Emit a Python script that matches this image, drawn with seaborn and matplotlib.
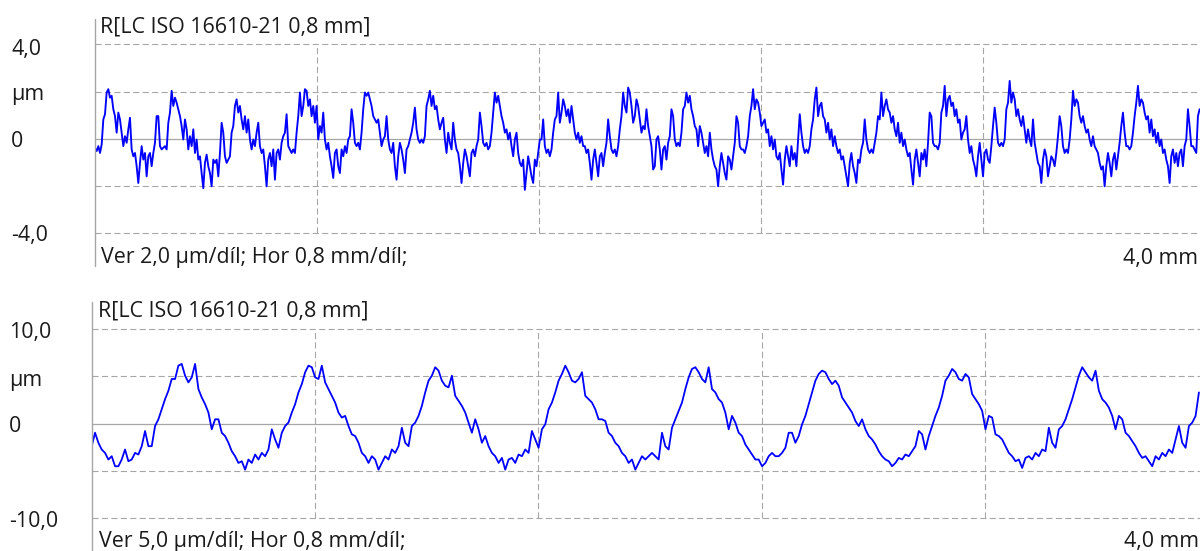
import numpy as np
import pandas as pd
import matplotlib
matplotlib.use("Agg")
import matplotlib.pyplot as plt
import seaborn as sns
from matplotlib.lines import Line2D

# ---------------- data ----------------
panel_title = "R[LC ISO 16610-21 0,8 mm]"
top_footer = "Ver 2,0 µm/díl; Hor 0,8 mm/díl;"
bottom_footer = "Ver 5,0 µm/díl; Hor 0,8 mm/díl;"
length_label = "4,0 mm"
top_ytick_labels = ["4,0", "µm", "0", "-4,0"]
bottom_ytick_labels = ["10,0", "µm", "0", "-10,0"]
top_range_um = 4.0
bottom_range_um = 10.0
x_divisions_mm = [0.8, 1.6, 2.4, 3.2]
x_length_mm = 4.0

# sampling interval of the read profiles (mm)
top_dx_mm = 0.006006
bottom_dx_mm = 0.011947

# top profile (µm)
top_profile_um = [
    -0.38, -0.52, -0.31, -0.60, -0.24, 0.82, 1.04, 1.96, 2.10, 1.74,
    1.82, 1.25, 0.96, 0.26, 1.11, 0.82, 0.26, -0.31, 0.11, -0.17,
    0.40, 0.89, -0.45, -0.74, -0.60, -1.16, -1.87, -1.02, -0.31, -0.88,
    -0.60, -1.59, -0.74, -0.60, -1.16, -0.60, -0.17, 0.96, 0.96, -0.31,
    -0.45, -0.38, -0.31, -0.45, 0.68, 1.11, 2.03, 1.39, 1.74, 1.53,
    1.25, 0.96, 0.54, -0.03, 0.82, 0.40, -0.45, 0.11, -0.31, 0.40,
    -0.60, -0.03, -0.88, -0.74, -1.45, -2.09, -1.02, -0.67, -1.16, -1.45,
    -2.01, -0.88, -1.02, -0.88, -1.59, -0.60, 0.68, 0.26, -0.74, -1.02,
    -0.88, -0.74, 0.26, 0.54, 1.39, 1.67, 1.11, 1.39, 0.82, 0.40,
    0.96, 0.26, 0.82, -0.03, -0.45, -0.03, -0.31, 0.26, 0.68, -0.31,
    -0.60, -0.45, -1.16, -2.01, -0.88, -0.60, -1.16, -0.45, -1.73, -0.60,
    -0.45, -0.88, -0.17, 0.11, 0.26, 1.04, -0.31, -0.45, -0.60, -0.45,
    -0.60, 0.26, 0.96, 1.96, 0.96, 1.39, 2.10, 2.03, 1.39, 1.67,
    0.96, 1.39, 0.68, 1.39, -0.03, 0.54, 0.26, 1.11, -0.03, -0.45,
    -0.17, -0.74, -1.16, -1.66, -0.60, -0.45, -1.16, -1.45, -0.45, -0.74,
    -0.31, -0.60, -0.03, 0.11, 1.25, 0.68, -0.17, -0.31, -0.17, -0.45,
    0.26, 1.25, 1.96, 1.82, 1.96, 1.67, 1.39, 0.96, 0.82,
    0.68, 0.82, 0.26, -0.31, -0.03, 0.11, 0.96, -0.03, -0.45, -0.60,
    -0.17, -1.16, -1.73, -0.74, -0.17, -0.45, -0.88, -1.45, -0.45, -0.31,
    -0.03, 0.26, 0.68, 1.32, 0.40, -0.03, -0.17, -0.03, -0.17, 0.11,
    1.39, 1.67, 2.03, 1.39, 1.82, 1.25, 1.39, 0.82, 0.40, 0.68,
    0.89, -0.03, -0.60, 0.26, -0.17, -0.45, 0.68, -0.03, -0.45, -0.60,
    -1.16, -1.87, -1.02, -0.45, -0.74, -1.16, -1.59, -0.60, -0.45, -0.74,
    -0.31, -0.03, 1.11, 0.54, -0.17, -0.31, -0.17, -0.45, -0.31, 0.26,
    1.11, 1.96, 1.53, 1.82, 1.39, 0.96, 0.68, 0.26, 0.40, -0.03,
    0.26, -0.31, -0.74, -0.03, 0.26, -0.60, -1.02, -1.16, -0.88, -2.16,
    -1.45, -0.74, -1.16, -1.59, -1.87, -0.88, -1.16, -0.60, -0.03, -0.03,
    0.82, -0.31, -0.60, -0.45, -0.74, -0.45, 0.26, 0.82, 0.96, 1.96,
    0.68, 1.11, 1.67, 1.39, 0.96, 1.25, 0.68, 1.39, 0.82, 0.26,
    -0.03, 0.26, -0.17, 0.11, -0.31, -0.31, -0.60, -0.45, -1.02, -1.73,
    -0.88, -0.45, -1.02, -1.59, -0.74, -0.60, -1.16, -0.60, -0.17, 0.82,
    0.11, -0.45, -0.60, -0.45, -0.74, -0.31, 0.40, 0.96, 1.96, 1.39,
    1.11, 2.17, 1.96, 1.39, 0.68, 0.96, 1.67, 1.39, 0.82, 0.26,
    0.54, 0.40, 1.25, 0.54, 0.11, -0.31, -1.30, -1.16,
    -0.03, 0.11, -0.45, -1.30, -0.45, -0.31, -0.88, -0.17, 0.11, 1.25,
    0.96, -0.03, -0.31, -0.17, -0.31, 0.26, 1.25, 1.39, 1.96, 1.53,
    1.82, 1.25, 0.96, 0.54, 0.40, -0.31, 0.54, 0.26, -0.17, -0.60,
    -0.31, -0.74, 0.26, -0.45, -0.88, -1.16, -1.30, -2.01, -1.16, -0.60,
    -1.02, -1.45, -1.73, -0.74, -0.88, -1.30, -0.74, -0.17, 0.96, 0.68,
    -0.31, -0.45, -0.45, -0.60, -0.31, 0.11, 0.96, 1.39, 2.10, 1.25,
    1.67, 1.53, 1.11, 0.54, 0.68, 0.82, 0.26, 0.40, -0.31, 0.11,
    -0.45, -0.03, -0.74, -0.88, -0.60, -1.30, -1.94, -0.88, -0.31, -0.74,
    -1.16, -0.31, -0.88, -0.60, -1.16, -0.03, 1.04, 0.26, -0.31, -0.60,
    -0.45, -0.60, -0.31, 0.40, 0.82, 1.67, 2.17, 0.96, 1.39, 1.53,
    0.96, 0.82, 0.26, 0.68, -0.03, 0.40, -0.31, 0.11, -0.31, -0.60,
    -0.45, -0.88, -0.74, -1.16, -1.59, -2.01, -1.02, -0.60, -1.16, -1.45,
    -1.87, -0.88, -1.02, -0.45, -0.17, 0.82, -0.03, -0.45, -0.60, -0.45,
    -0.60, -0.17, 0.26, 0.96, 0.82, 1.96, 0.96, 1.39, 1.67, 1.25,
    1.11, 0.68, 0.96, 0.40, 0.11, 0.68, -0.17, 0.26, -0.31, -0.03,
    -0.45, -0.74, -0.60, -1.30, -1.94, -0.88, -0.45, -1.02, -1.59, -0.60,
    -0.88, -0.45, -1.16, -0.17, 1.11, 0.96, -0.17, -0.31,
    -0.31, -0.45, -0.17, 1.11, 1.39, 2.24, 0.96, 1.67, 1.82, 1.39,
    1.53, 0.96, 1.25, 0.68, 0.82, -0.03, 0.26, 0.40, 0.96, -0.03,
    -0.60, -0.31, -0.88, -1.16, -1.59, -0.74, -0.17, -0.88, -1.59, -0.60,
    -0.45, -0.88, -1.02, -0.31, 0.54, 1.32, 0.68, -0.17, -0.31, -0.17,
    -0.31, -0.03, 1.25, 1.53, 2.45, 1.53, 1.96, 1.67, 0.96, 1.25,
    0.82, 0.54, 0.96, 0.40, -0.17, 0.40, -0.03, -0.31, 0.82, -0.17,
    -0.60, -1.02, -1.16, -1.87, -0.88, -0.45, -0.74, -1.59, -1.16, -0.74,
    -0.88, -1.16, -0.60, 0.11, 0.96, 0.54, -0.31, -0.60, -0.45, -0.60,
    -0.03, 0.82, 2.03, 1.39, 1.67, 1.53, 0.96, 0.68, 0.96, 0.54,
    0.26, 0.40, -0.03, -0.31, 0.11, -0.31, -0.45, -0.60, -1.02, -1.30,
    -1.16, -2.01, -1.16, -0.60, -1.02, -1.59, -0.88, -0.60, -1.30, -0.74,
    -0.17, 0.54, 1.11, 0.26, -0.31, -0.31, -0.45, -0.31, 0.26, 0.96,
    1.53, 2.24, 1.39, 1.67, 1.53, 1.11, 0.82, 0.96, 0.26, 0.82,
    0.11, 0.40, -0.17, 0.26, -0.31, -0.03, -0.60, -0.45, -0.88, -1.16,
    -1.87, -0.74, -0.45, -1.02, -0.60, -1.16, -0.60, -0.45, -1.16, -0.31,
    -0.03, 1.25, 0.54, -0.31, -0.31, -0.45, -0.60, 0.96, 1.25,
]

# bottom profile (µm)
bottom_profile_um = [
    -2.38, -0.96, -2.02, -2.73, -3.09, -3.79, -3.44, -4.50, -4.50, -3.79,
    -2.73, -3.97, -3.79, -3.09, -3.26, -2.38, -0.78, -2.38, -2.38, -0.25,
    0.46, 1.52, 2.59, 3.48, 4.72, 4.72, 6.13, 6.31, 5.07, 4.36,
    4.89, 6.31, 3.65, 2.77, 2.06, 1.17, -0.60, 0.46, 0.46, -0.96,
    -1.31, -2.02, -2.91, -3.44, -4.15, -3.97, -4.86, -3.79, -4.15, -3.26,
    -3.79, -3.09, -3.44, -2.73, -0.60, -1.67, -2.55, -0.96, -0.25, 0.11,
    1.17, 2.06, 3.30, 4.18, 5.43, 6.13, 5.96, 4.89, 4.72, 6.13,
    4.36, 3.65, 2.94, 2.23, 1.17, 0.64, 0.82, -0.25, -1.13, -1.31,
    -2.02, -3.09, -3.44, -4.15, -3.44, -3.79,
    -4.86, -4.15, -3.44, -3.79, -2.73, -3.09, -2.38, -0.43, -2.02, -2.38,
    -0.25, 0.11, 0.82, 1.88, 3.30, 4.54, 5.07, 5.96, 5.60, 4.54,
    4.01, 3.83, 5.07, 2.94, 2.41, 1.88, 1.17, 0.11, -0.96, 0.46,
    -0.60, -2.02, -1.31, -2.38, -3.09, -3.44, -4.15, -3.62, -4.86, -3.79,
    -3.62, -4.15, -3.26, -3.44, -2.73, -3.09, -0.78, -1.67, -2.55, -0.60,
    -0.07, 1.52, 2.23, 3.30, 4.54, 5.25, 6.13, 5.43, 4.54, 4.36,
    4.72, 5.43, 2.94, 2.59, 2.23, 1.52, 0.46, 0.46, 0.28, -0.96,
    -1.31, -2.02, -2.38, -3.09, -3.44, -4.15, -3.79, -4.86, -4.15, -3.44,
    -3.79, -3.44, -3.09, -3.44,
    -3.79, -0.96, -2.38, -2.73, -0.43, 0.46, 1.35, 2.23, 3.65, 4.89,
    5.78, 5.96, 5.43, 4.72, 4.36, 5.96, 3.65, 3.30, 2.59, 2.23,
    1.17, -0.60, 0.82, 0.11, -0.96, -1.31, -2.20, -2.73, -3.26, -3.79,
    -3.79, -4.50, -4.15, -3.44, -3.09, -3.44, -3.44, -3.09, -2.55, -0.96,
    -0.96, -2.02, -1.31, -0.07, 0.82, 2.06, 3.30, 4.54, 5.25, 5.60,
    5.43, 4.72, 4.18, 4.54, 4.01, 2.77, 2.23, 1.70, 1.17, 0.28,
    -0.25, 0.46, -0.60, -1.31, -1.67, -2.20, -2.91, -3.44, -3.79, -3.97,
    -4.50, -4.15, -3.62, -3.79, -3.26, -3.44, -2.91, -2.38, -0.78, -1.13,
    -2.73, -1.31, -0.25, 0.82,
    1.70, 2.94, 4.54, 5.07, 5.78, 5.43, 4.72, 4.54, 5.25, 4.89,
    3.12, 2.59, 2.06, 1.35, -0.60, 0.82, 0.64, -1.13, -1.31, -1.67,
    -2.38, -3.09, -3.44, -3.97, -3.79, -4.68, -3.62, -3.44, -3.79, -3.09,
    -3.44, -2.73, -2.91, -0.43, -2.02, -2.55, -0.60, -0.25, 0.46, 1.52,
    2.59, 3.83, 5.07, 5.96, 5.43, 4.89, 4.54, 5.60, 3.48, 2.59,
    2.23, 1.70, 0.82, -0.60, 0.82, 0.46, -0.96, -1.31, -1.84, -2.38,
    -3.09, -3.62, -3.44, -3.97, -4.50, -3.44, -3.79, -3.09, -3.44, -2.73,
    -3.09, -1.67, -0.25, -2.02, -2.55, -0.25, 0.11, 0.82, 3.30,
]

# ---------------- styling ----------------
W, H = 1200, 551
GRID = "#a6a6a6"
TEXT = "#1a1a1a"
LINE = "#0000ff"
FS = 15.4

sns.set_theme(style="white")
plt.rcParams["font.family"] = ["Open Sans", "DejaVu Sans"]

fig = plt.figure(figsize=(W / 100, H / 100), dpi=100)
fig.patch.set_facecolor("white")


def px_rect(left, top, width, height):
    return [left / W, 1 - (top + height) / H, width / W, height / H]


def ftext(x, y, s, ha="left"):
    fig.text(x / W, 1 - y / H, s, fontsize=FS, color=TEXT, ha=ha, va="baseline")


def panel(rect, yr, values, dx, lw):
    ax = fig.add_axes(rect)
    ax.patch.set_alpha(0)
    df = pd.DataFrame({"x_mm": np.arange(len(values)) * dx, "z_um": values})
    dash = dict(color=GRID, lw=0.8, dashes=(5.5, 3.0), clip_on=False, zorder=1)
    for yv in (yr, yr / 2, -yr / 2, -yr):
        ax.axhline(yv, **dash)
    ax.axhline(0, color=GRID, lw=0.9, clip_on=False, zorder=1)
    for xv in x_divisions_mm:
        ax.axvline(xv, **dash)
    sns.lineplot(data=df, x="x_mm", y="z_um", ax=ax, color=LINE, lw=lw,
                 estimator=None, sort=False, zorder=3)
    ax.set_xlim(0, x_length_mm)
    ax.set_ylim(-yr, yr)
    ax.set_xticks([])
    ax.set_yticks([])
    ax.set_xlabel("")
    ax.set_ylabel("")
    for s in ax.spines.values():
        s.set_visible(False)
    return ax


# top panel
panel(px_rect(95, 44.3, 1109.6, 189.0), top_range_um, top_profile_um, top_dx_mm, 1.35)
fig.add_artist(Line2D([95 / W, 95 / W], [1 - 19 / H, 1 - 266 / H], color=GRID, lw=1.0))
ftext(100, 32.5, panel_title)
ftext(101, 263.5, top_footer)
ftext(1198, 264, length_label, ha="right")
for lab, yb in zip(top_ytick_labels, [55.5, 100.0, 147.0, 241.5]):
    ftext(11, yb, lab)

# bottom panel
panel(px_rect(91.7, 329.0, 1116.6, 189.3), bottom_range_um, bottom_profile_um, bottom_dx_mm, 1.3)
fig.add_artist(Line2D([91.7 / W, 91.7 / W], [1 - 302 / H, 0], color=GRID, lw=1.0))
ftext(98, 316.7, panel_title)
ftext(99, 547.0, bottom_footer)
ftext(1199, 547.0, length_label, ha="right")
for lab, yb in zip(bottom_ytick_labels, [338.0, 386.0, 432.0, 527.5]):
    ftext(9, yb, lab)

fig.savefig("out.png", dpi=100, facecolor="white")
